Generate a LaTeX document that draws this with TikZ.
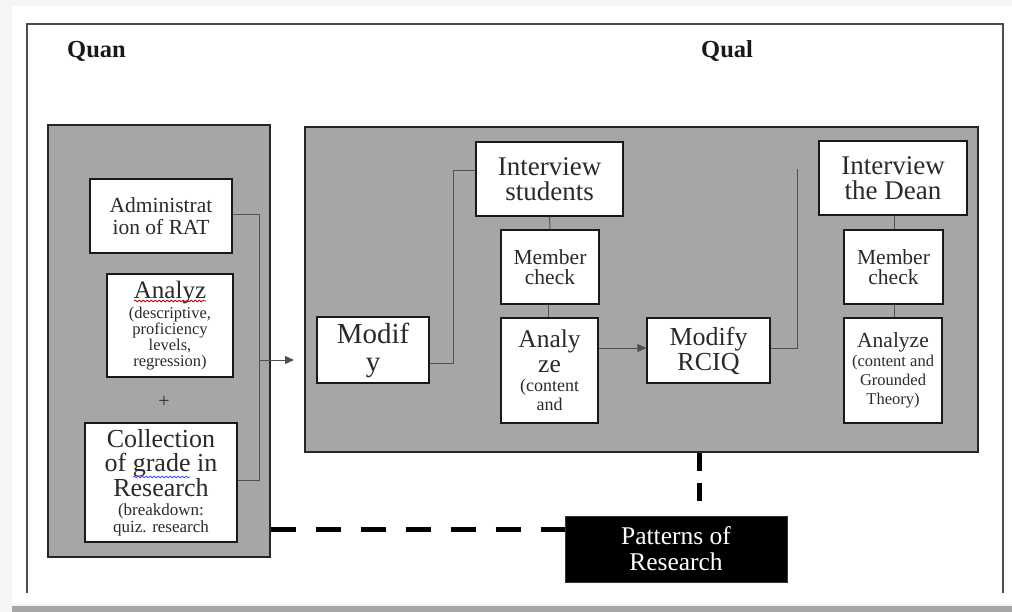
\documentclass[tikz,border=0pt]{standalone}
\usepackage{fontspec}
\setmainfont{Liberation Serif}
\usetikzlibrary{arrows.meta,calc,decorations.pathmorphing}
\definecolor{panelgray}{HTML}{A6A6A6}
\definecolor{txt}{HTML}{2A2A2A}
\definecolor{conn}{HTML}{505050}
\tikzset{
  panel/.style={draw=black!85, line width=1.4pt, fill=panelgray},
  wbox/.style={draw=black!90, line width=1.3pt, fill=white, text=txt, align=center, inner sep=1pt},
  conline/.style={draw=conn, line width=1pt},
  dashline/.style={draw=black, line width=5pt},
  lbl/.style={font=\bfseries\fontsize{24.5}{24.5}\selectfont, text=black!90, anchor=base west, inner sep=0pt},
  squiggle/.style={line width=0.8pt, decorate, decoration={snake, amplitude=0.9pt, segment length=4pt}},
}
\newcommand\fs[2]{\fontsize{#1}{#2}\selectfont}
\newcommand\mtext[2]{\begin{minipage}{#1pt}\centering #2\end{minipage}}
\begin{document}
\begin{tikzpicture}[x=1pt,y=-1pt]
\useasboundingbox (0,0) rectangle (1012,612);
% page shadow and frame
\fill[black!4] (0,0) rectangle (1012,612);
\fill[white] (12,6) rectangle (1012,604);
\fill[black!35] (12,606) rectangle (1012,612);
\draw[black!70, line width=1.8pt] (27,593) -- (27,24) -- (1003,24) -- (1003,593);
% labels
\node[lbl] (quan) at (67,58) {Quan};
\node[lbl] (qual) at (701,58) {Qual};
% panels
\node[panel, minimum width=222pt, minimum height=432pt, inner sep=0pt] (quanp) at (159,341) {};
\node[panel, minimum width=673pt, minimum height=325pt, inner sep=0pt] (qualp) at (641.5,289.5) {};
% Quan boxes
\node[wbox, minimum width=142pt, minimum height=74pt, font=\fs{21.5}{21.5}] (admin) at (161,216) {Administrat\\ion of RAT};
\node[wbox, minimum width=126pt, minimum height=103pt] (analyz) at (170,325.5)
  {\mtext{122}{\fs{25}{23}Analyz\par\fs{16.5}{20}(descriptive,\par\fs{16.5}{16}proficiency\\ levels,\\ regression)}};
\node[text=txt, font=\fs{20}{20}] (plus) at (164,402) {+};
\node[wbox, minimum width=152pt, minimum height=119pt] (coll) at (161,482.5)
  {\mtext{148}{\fs{26}{24.5}Collection\\ of grade in\\ Research\par\fs{17}{19}(breakdown:\par\fs{17}{17}quiz. research}};
% Qual boxes
\node[wbox, minimum width=112pt, minimum height=66pt, font=\fs{29}{28}] (modify) at (373,350) {Modif\\y};
\node[wbox, minimum width=147pt, minimum height=74pt, font=\fs{27}{25}] (ints) at (549.5,179) {Interview\\students};
\node[wbox, minimum width=98pt, minimum height=74pt, font=\fs{21.5}{20.5}] (mc1) at (550,267) {Member\\check};
\node[wbox, minimum width=97pt, minimum height=105pt] (an1) at (549.5,370.5)
  {\mtext{93}{\fs{25.5}{25}Analy\\ ze\par\fs{18}{19}(content\\ and}};
\node[wbox, minimum width=123pt, minimum height=65pt, font=\fs{26}{25}] (rciq) at (708.5,350.5) {Modify\\RCIQ};
\node[wbox, minimum width=148pt, minimum height=74pt, font=\fs{27}{25}] (intd) at (893,178) {Interview\\the Dean};
\node[wbox, minimum width=99pt, minimum height=74pt, font=\fs{21.5}{20.5}] (mc2) at (893.5,267) {Member\\check};
\node[wbox, minimum width=98pt, minimum height=105pt] (an2) at (893,370.5)
  {\mtext{96}{\fs{21.5}{22}Analyze\par\fs{16.5}{19}(content and\\ Grounded\\ Theory)}};
\node[draw=black!80, fill=black, text=white, align=center, minimum width=222pt, minimum height=66pt, font=\fs{25.5}{26}] (patt) at (676,549) {Patterns of\\Research};
% spell-check marks
\coordinate (sq1a) at (134,301);
\coordinate (sq1b) at (206,301);
\draw[squiggle, red!80!black] (sq1a) -- (sq1b);
\coordinate (sq2a) at (133,477);
\coordinate (sq2b) at (190,477);
\draw[squiggle, blue!70] (sq2a) -- (sq2b);
% Quan connectors
\draw[conline] (admin.east |- 0,215) -- (259,215) |- (coll.east |- 0,480);
\coordinate (qa1) at (259,360);
\coordinate (qa2) at (294,360);
\draw[conline, -{Triangle[length=9pt,width=8pt]}] (qa1) -- (qa2);
% Qual connectors
\draw[conline] (modify.east |- 0,363) -- (453,363) |- (ints.west |- 0,171);
\draw[conline] (ints.south) -- (mc1.north);
\draw[conline] (mc1.south -| 548,0) -- (an1.north -| 548,0);
\draw[conline, -{Triangle[length=9pt,width=8pt]}] (an1.east |- 0,348) -- (rciq.west |- 0,348);
\coordinate (rfree) at (797,169);
\draw[conline] (rciq.east |- 0,348) -| (rfree);
\draw[conline] (intd.south -| 894,0) -- (mc2.north -| 894,0);
\draw[conline] (mc2.south -| 894,0) -- (an2.north -| 894,0);
% dashed links
\coordinate (vd1) at (699,453);
\coordinate (vd2) at (699,506);
\draw[dashline, dash pattern=on 18pt off 12pt] (vd1) -- (vd2);
\draw[dashline, dash pattern=on 25pt off 20pt] (quanp.east |- 0,529) -- (patt.west |- 0,529);
\end{tikzpicture}
\end{document}
